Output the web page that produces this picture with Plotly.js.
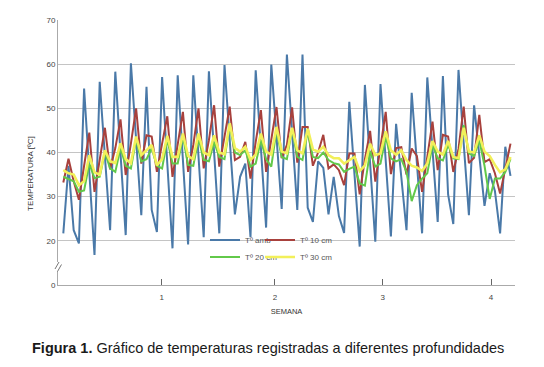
<!DOCTYPE html>
<html>
<head>
<meta charset="utf-8">
<script src="https://cdn.plot.ly/plotly-3.0.1.min.js"></script>
<style>html,body{margin:0;padding:0;background:#fff;}#chart{width:544px;height:367px;}</style>
</head>
<body>
<div id="chart"></div>
<script>
// Readings: 3 per day, index = reading number
var tAmb = [21.7,37,22.4,19.4,54.5,36,16.8,56,39,22.4,58.3,40,21.3,60.2,43,25.8,54.9,27,22,57.1,37.5,18.3,57.5,38,19.2,57.5,39,20.8,58.4,40,21.7,59.8,43,26,34.5,37.5,20.8,58.6,41,23,59.9,43.5,27.2,62.2,44.5,27,62.2,27.5,24.3,38,36.5,26,34.5,25.6,21.8,51.5,35,18.7,55.3,37.5,19.8,55.5,38,21,46.5,34.5,22.4,53.5,37.5,21.7,57,40.5,24.3,57.3,30.5,23.8,58.7,42,25.8,50.7,39,27.9,35.3,31.3,21.7,41.3,34.7];
var t10 = [33.2,38.6,33.5,29.3,37,44.5,31.1,38.5,45.6,36.2,41,47.5,34.9,42,50,37.5,43.9,43.6,35.6,42,48.2,34.5,42.4,49.2,35.6,41.7,50,36.4,42.8,50.7,36.8,43.9,50.4,38.3,39,42.4,34.1,42.4,49.6,35.6,43.2,50.3,38.7,41.7,50.2,37.7,45.8,45.8,37,40,44,36.4,37.3,36,32.6,39.8,39.8,30.5,38.5,44.9,33.4,41,49.2,35.1,41,41.2,35,40.9,39.2,31.1,39,47,36,44,43.6,35.6,40.8,50.4,37.6,38.8,48.5,37.8,38.5,35.3,30.7,36.5,42];
var t20 = [34.5,34,33.5,31.1,31.4,37.5,34.2,34.5,40,36.4,35.6,41,37,36.4,43,38,38.5,40.9,37,36.4,43,37.5,37.5,43.6,37.2,37,43.2,38.3,38,42.4,39,38.5,46.2,40,39.4,40.5,36.8,37.5,42.8,38.5,36.8,45.1,39,38.5,45.4,39,38.3,44.7,39,38.7,40,38.3,37.6,37.3,35.6,36.3,36.8,33,32.5,40.3,36.8,37.5,43.6,38.7,38,38.5,35.6,29,32.6,34.1,35.3,41.7,38.7,38.2,41.7,38.7,38.5,46.2,39.8,39.2,42.8,37,29.5,34.1,34.1,35.6,38.5];
var t30 = [36,35.3,35,32.6,33.5,39.4,35.5,35,40.5,38,37.6,42.1,38.5,37.6,43.6,39.4,40.5,41.7,37.1,38.5,43.8,39,39,44.3,39.2,38.5,44.3,40,39.4,43.9,40,39.6,46.6,41,40.2,41.3,38.3,39.5,44.3,40.2,39.5,45.8,40.2,39.8,45.6,40.5,39.8,45.4,40.7,40.2,41.3,39.4,38.7,38.7,37.5,38.3,39,35.8,37.1,42,39.4,39.8,44.8,40.5,39.5,40.5,38.3,37,36.6,35.8,37.5,42.6,40.2,39.5,42.6,39,38.7,45.6,40.2,40,43.9,40.2,39.2,37.2,35.5,36.2,39];
var seriesNames = ['Tº amb','Tº 10 cm','Tº 20 cm','Tº 30 cm'];
var weekTickLabels = ['1','2','3','4'];
var weekTickPos = [18.92,40.71,61.42,82.25];
var yTickVals = [10,20,30,40,50,60,70];
var yTickText = ['0','20','30','40','50','60','70'];

var idx = tAmb.map(function(_, i){ return i; });
var colors = ['#4a79a8','#a8413d','#62c94a','#f2f05a'];
var widths = [2,2,2,2.6];
var data = [tAmb,t10,t20,t30];
var legendIds = ['legend','legend2','legend3','legend4'];

var traces = data.map(function(arr, k){
  return {x: idx, y: arr, type:'scatter', mode:'lines', name: seriesNames[k],
    line:{color: colors[k], width: widths[k]}, legend: legendIds[k]};
});

var L = 58, R = 515, T = 20, B = 285;
function px(xp){ return (xp - L)/(R - L); }
function py(yp){ return (B - yp)/(B - T); }

function leg(xp, yp){
  return {x: px(xp), y: py(yp), xanchor:'left', yanchor:'middle', orientation:'h',
    bgcolor:'rgba(0,0,0,0)', font:{family:'Arial, Liberation Sans', size:8, color:'#555'}};
}

var layout = {
  width:544, height:367,
  margin:{l:L, r:544-R, t:T, b:367-B},
  paper_bgcolor:'#fff', plot_bgcolor:'#fff',
  font:{family:'Arial, Liberation Sans', size:8, color:'#444'},
  showlegend:true,
  legend: leg(205, 240),
  legend2: leg(260, 240),
  legend3: leg(205, 257),
  legend4: leg(260, 257),
  xaxis:{range:[(L-63.3)/5.2,(R-63.3)/5.2], tickvals: weekTickPos, ticktext: weekTickLabels,
    showgrid:false, zeroline:false, showline:true, linecolor:'#aaa', linewidth:1,
    ticks:'inside', ticklen:6, tickcolor:'#666', ticklabelstandoff:4,
    tickfont:{size:8, color:'#444'},
    title:{text:'SEMANA', font:{size:7.5, color:'#333'}, standoff:8}},
  yaxis:{range:[10,70], tickvals:yTickVals, ticktext:yTickText,
    showgrid:true, gridcolor:'#c4c4c4', gridwidth:1, zeroline:false,
    showline:true, linecolor:'#aaa', ticks:'', tickfont:{size:8, color:'#444'}},
  shapes:[
    {type:'rect', xref:'paper', yref:'paper', x0:px(53), x1:px(63), y0:py(271), y1:py(262), fillcolor:'#fff', line:{width:0}, layer:'above'},
    {type:'line', xref:'paper', yref:'paper', x0:px(55), y0:py(269), x1:px(59), y1:py(262), line:{color:'#777', width:1}, layer:'above'},
    {type:'line', xref:'paper', yref:'paper', x0:px(57.5), y0:py(271.5), x1:px(61.5), y1:py(264.5), line:{color:'#777', width:1}, layer:'above'}
  ],
  annotations:[
    {xref:'paper', yref:'paper', x:px(30), y:py(174), text:'TEMPERATURA [ºC]', textangle:-90, showarrow:false,
      xanchor:'center', yanchor:'middle', font:{size:8, color:'#333'}},
    {xref:'paper', yref:'paper', x:px(268), y:py(348), showarrow:false, xanchor:'center', yanchor:'middle',
      text:'<b>Figura 1.</b> Gráfico de temperaturas registradas a diferentes profundidades',
      font:{size:14.5, color:'#1a1a1a'}}
  ]
};

Plotly.newPlot('chart', traces, layout, {displayModeBar:false, staticPlot:true});
</script>
</body>
</html>
